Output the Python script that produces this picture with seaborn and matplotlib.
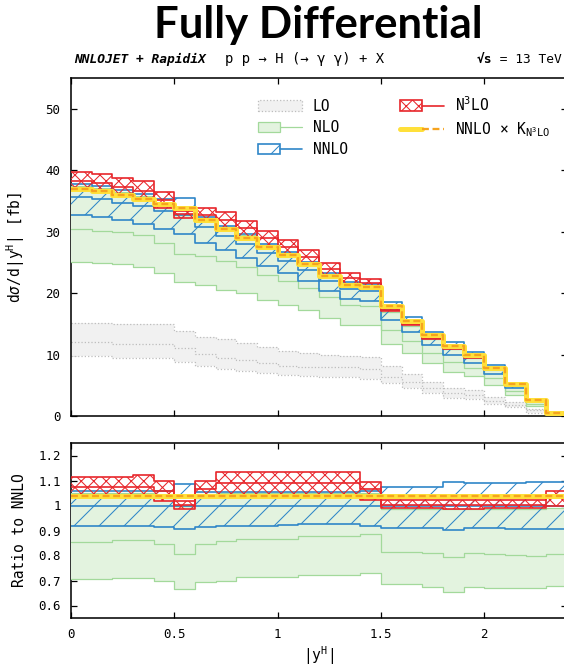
import numpy as np
import matplotlib
matplotlib.use("Agg")
import matplotlib.pyplot as plt
import seaborn as sns
from matplotlib.patches import Patch
from matplotlib.lines import Line2D
from matplotlib.legend_handler import HandlerTuple

# ---------------- data ----------------
bin_edges = [0.0, 0.1, 0.2, 0.3, 0.4, 0.5, 0.6, 0.7, 0.8, 0.9, 1.0, 1.1, 1.2,
             1.3, 1.4, 1.5, 1.6, 1.7, 1.8, 1.9, 2.0, 2.1, 2.2, 2.3, 2.4]

# NNLO central value [fb]
nnlo_central = [35.6, 35.3, 34.7, 34.1, 33.3, 32.7, 30.7, 29.3, 28.0, 26.5, 25.3, 23.8,
                22.0, 20.6, 20.3, 17.2, 14.9, 12.7, 11.0, 9.55, 7.6, 5.0, 2.5, 0.4]
k_n3lo = 1.037

# LO band [fb]
lo_lo = [9.8, 9.8, 9.5, 9.5, 9.5, 8.8, 8.1, 7.7, 7.4, 7.0, 6.7, 6.5,
         6.4, 6.3, 6.1, 5.3, 4.5, 3.7, 2.9, 2.7, 2.0, 1.4, 0.5, 0.1]
lo_mid = [12.0, 12.0, 11.7, 11.7, 11.7, 11.0, 10.1, 9.5, 9.1, 8.7, 8.1, 7.9,
          8.0, 7.9, 7.6, 6.4, 5.6, 4.5, 3.7, 3.4, 2.5, 1.8, 0.9, 0.15]
lo_hi = [15.2, 15.2, 14.9, 14.9, 14.9, 13.9, 12.8, 12.5, 11.8, 11.3, 10.6, 10.2,
         10.0, 9.7, 9.6, 8.1, 6.9, 5.6, 4.5, 4.2, 3.1, 2.3, 1.2, 0.2]

# bands as ratio to NNLO central
nlo_lo_r = [0.705, 0.705, 0.712, 0.712, 0.700, 0.668, 0.695, 0.700, 0.714, 0.714, 0.714, 0.722,
            0.722, 0.722, 0.731, 0.685, 0.685, 0.675, 0.655, 0.674, 0.670, 0.670, 0.670, 0.678]
nlo_mid_r = [0.855, 0.855, 0.863, 0.863, 0.846, 0.806, 0.846, 0.859, 0.865, 0.865, 0.868, 0.878,
             0.878, 0.878, 0.885, 0.816, 0.816, 0.810, 0.793, 0.810, 0.806, 0.802, 0.800, 0.806]
nlo_hi_r = [1.050, 1.050, 1.050, 1.050, 1.040, 1.000, 1.045, 1.050, 1.050, 1.050, 1.050, 1.050,
            1.050, 1.050, 1.050, 0.988, 0.988, 0.988, 0.985, 0.988, 0.988, 0.988, 0.988, 0.990]

nnlo_lo_r = [0.918, 0.918, 0.918, 0.918, 0.916, 0.905, 0.916, 0.920, 0.920, 0.920, 0.922, 0.925,
             0.925, 0.925, 0.920, 0.912, 0.912, 0.912, 0.903, 0.909, 0.909, 0.905, 0.905, 0.905]
nnlo_hi_r = [1.060, 1.060, 1.060, 1.060, 1.060, 1.085, 1.055, 1.055, 1.055, 1.055, 1.055, 1.055,
             1.055, 1.055, 1.060, 1.076, 1.076, 1.076, 1.093, 1.089, 1.089, 1.089, 1.093, 1.093]

n3lo_lo_r = [1.032, 1.032, 1.032, 1.032, 1.018, 0.987, 1.035, 1.043, 1.043, 1.043, 1.043, 1.043,
             1.043, 1.043, 1.022, 0.991, 0.991, 0.991, 0.987, 0.987, 0.991, 0.991, 0.991, 0.997]
n3lo_mid_r = [1.074, 1.074, 1.074, 1.074, 1.057, 1.003, 1.066, 1.090, 1.090, 1.090, 1.090, 1.090,
              1.090, 1.090, 1.066, 1.004, 1.004, 1.004, 1.004, 1.004, 1.004, 1.004, 1.004, 1.030]
n3lo_hi_r = [1.115, 1.115, 1.115, 1.123, 1.097, 1.020, 1.100, 1.133, 1.133, 1.133, 1.133, 1.133,
             1.133, 1.133, 1.096, 1.024, 1.024, 1.022, 1.022, 1.022, 1.024, 1.024, 1.024, 1.059]

main_yticks = [0, 10, 20, 30, 40, 50]
ratio_yticks = [0.6, 0.7, 0.8, 0.9, 1.0, 1.1, 1.2]
xticks = [0, 0.5, 1, 1.5, 2]

# ---------------- style ----------------
sns.set_theme(style="ticks")
DPI = 150
plt.rcParams.update({
    "font.family": ["DejaVu Sans Mono", "DejaVu Sans"],
    "mathtext.fontset": "custom",
    "mathtext.rm": "DejaVu Sans Mono",
    "mathtext.it": "DejaVu Sans Mono:italic",
    "mathtext.bf": "DejaVu Sans Mono:bold",
    "hatch.linewidth": 0.5,
    "axes.linewidth": 0.75,
    "axes.edgecolor": "black",
    "text.color": "black",
    "axes.labelcolor": "black",
    "xtick.color": "black",
    "ytick.color": "black",
})

C_LO_LINE, C_LO_FILL = "#bdbdbd", "#f1f1f1"
C_NLO_LINE, C_NLO_FILL = "#a3d99b", "#e3f3df"
C_NNLO = "#2f86c8"
C_N3LO = "#e8262b"
C_YEL, C_ORA = "#ffe03a", "#f6a31e"
HATCH_NNLO = "//"
HATCH_N3LO = "xxxx"

edges = np.array(bin_edges)
cen = np.array(nnlo_central)


def st(v):
    v = np.asarray(v, dtype=float)
    return np.append(v, v[-1])


def step_line(ax, vals, color, lw, ls="-", z=2):
    sns.lineplot(x=edges, y=st(vals), ax=ax, color=color, linewidth=lw,
                 drawstyle="steps-post", estimator=None, sort=False, zorder=z)
    ax.lines[-1].set_linestyle(ls)


def band(ax, lo, mid, hi, kind):
    if kind == "LO":
        ax.fill_between(edges, st(lo), st(hi), step="post", color=C_LO_FILL, lw=0, zorder=1)
        for v in (lo, mid, hi):
            step_line(ax, v, C_LO_LINE, 0.6, ":", 2)
    elif kind == "NLO":
        ax.fill_between(edges, st(lo), st(hi), step="post", color=C_NLO_FILL, lw=0, zorder=3)
        for v in (lo, mid, hi):
            step_line(ax, v, C_NLO_LINE, 0.6, "-", 4)
    elif kind == "NNLO":
        ax.fill_between(edges, st(lo), st(hi), step="post", facecolor="none",
                        edgecolor=C_NNLO, hatch=HATCH_NNLO, lw=0, zorder=5)
        for v in (lo, mid, hi):
            step_line(ax, v, C_NNLO, 0.8, "-", 6)
    elif kind == "N3LO":
        ax.fill_between(edges, st(lo), st(hi), step="post", facecolor="none",
                        edgecolor=C_N3LO, hatch=HATCH_N3LO, lw=0, zorder=7)
        for v in (lo, mid, hi):
            step_line(ax, v, C_N3LO, 0.8, "-", 8)


def kline(ax, vals):
    step_line(ax, vals, C_YEL, 2.4, "-", 9)
    step_line(ax, vals, C_ORA, 1.1, (0, (3, 1.6)), 10)


W, H = 564, 669
fig = plt.figure(figsize=(W / DPI, H / DPI), dpi=DPI)
ax = fig.add_axes([71 / W, (H - 416) / H, 496 / W, 338 / H])
axr = fig.add_axes([71 / W, (H - 618) / H, 496 / W, 175 / H])

# main panel
band(ax, lo_lo, lo_mid, lo_hi, "LO")
band(ax, cen * np.array(nlo_lo_r), cen * np.array(nlo_mid_r), cen * np.array(nlo_hi_r), "NLO")
band(ax, cen * np.array(nnlo_lo_r), cen, cen * np.array(nnlo_hi_r), "NNLO")
band(ax, cen * np.array(n3lo_lo_r), cen * np.array(n3lo_mid_r), cen * np.array(n3lo_hi_r), "N3LO")
kline(ax, cen * k_n3lo)

# ratio panel
band(axr, nlo_lo_r, nlo_mid_r, nlo_hi_r, "NLO")
band(axr, nnlo_lo_r, cen / cen, nnlo_hi_r, "NNLO")
band(axr, n3lo_lo_r, n3lo_mid_r, n3lo_hi_r, "N3LO")
kline(axr, cen * k_n3lo / cen)

for a in (ax, axr):
    a.set_xlim(0, 2.4)
    a.set_xticks(xticks)
    a.tick_params(direction="in", top=True, right=True, length=3, width=0.6,
                  labelsize=6, pad=5, colors="black")
    for s in a.spines.values():
        s.set_visible(True)
        s.set_linewidth(0.75)
        s.set_color("black")
    a.set_xlabel("")
    a.set_ylabel("")

ax.set_ylim(0, 55)
ax.set_yticks(main_yticks)
ax.set_yticklabels([f"{v:g}" for v in main_yticks])
ax.tick_params(labelbottom=False)

axr.set_ylim(0.55, 1.25)
axr.set_yticks(ratio_yticks)
axr.set_yticklabels([f"{v:g}" for v in ratio_yticks])
axr.set_xticklabels([f"{v:g}" for v in xticks])

ax.set_ylabel(r"d$\sigma$/d|y$^{\mathrm{H}}$| [fb]", fontsize=7)
axr.set_ylabel("Ratio to NNLO", fontsize=7)
axr.set_xlabel(r"|y$^{\mathrm{H}}$|", fontsize=7)
ax.yaxis.set_label_coords((27 - 71) / 496, 0.5)
axr.yaxis.set_label_coords((27 - 71) / 496, 0.5)
axr.xaxis.set_label_coords(0.5, -0.15)

# legend
h_lo = Patch(facecolor=C_LO_FILL, edgecolor=C_LO_LINE, linestyle=":", linewidth=0.6)
h_nlo = (Patch(facecolor=C_NLO_FILL, edgecolor=C_NLO_LINE, linewidth=0.6),
         Line2D([], [], color=C_NLO_LINE, lw=0.6))
h_nnlo = (Patch(facecolor="none", edgecolor=C_NNLO, hatch=HATCH_NNLO, linewidth=0.8),
          Line2D([], [], color=C_NNLO, lw=0.8))
h_n3lo = (Patch(facecolor="none", edgecolor=C_N3LO, hatch=HATCH_N3LO, linewidth=0.8),
          Line2D([], [], color=C_N3LO, lw=0.8))
h_k = (Line2D([], [], color=C_YEL, lw=2.4),
       Line2D([], [], color=C_ORA, lw=1.1, linestyle=(0, (3, 1.6))))
leg = ax.legend([h_lo, h_nlo, h_nnlo, h_n3lo, h_k],
                ["LO", "NLO", "NNLO", r"N$^{3}$LO", r"NNLO × K$_{\mathrm{N^3LO}}$"],
                handler_map={tuple: HandlerTuple(ndivide=None, pad=0)},
                ncol=2, frameon=False, fontsize=7, handlelength=3.0, handleheight=0.7,
                handletextpad=0.75, columnspacing=3.6, labelspacing=0.45,
                borderpad=0, borderaxespad=0, loc="upper left",
                bbox_to_anchor=(258 / W, 1 - 95 / H), bbox_transform=fig.transFigure)

# titles
fig.text(318 / W, 1 - 38 / H, "Fully Differential", family="Lato", weight="bold",
         fontsize=21, ha="center", va="baseline")
fig.text(74 / W, 1 - 63 / H, "NNLOJET + RapidiX", weight="bold", style="italic",
         fontsize=6.2, ha="left", va="baseline")
fig.text(225 / W, 1 - 63 / H, "p p → H (→ γ γ) + X", fontsize=6.7, ha="left", va="baseline")
t_rest = fig.text(562 / W, 1 - 63 / H, " = 13 TeV", fontsize=6.2, ha="right", va="baseline")
renderer = fig.canvas.get_renderer()
bb = t_rest.get_window_extent(renderer=renderer)
fig.text(bb.x0 / fig.bbox.width, 1 - 63 / H, "√s", fontsize=6.2, weight="bold",
         ha="right", va="baseline")

fig.savefig("out.png", dpi=DPI)
